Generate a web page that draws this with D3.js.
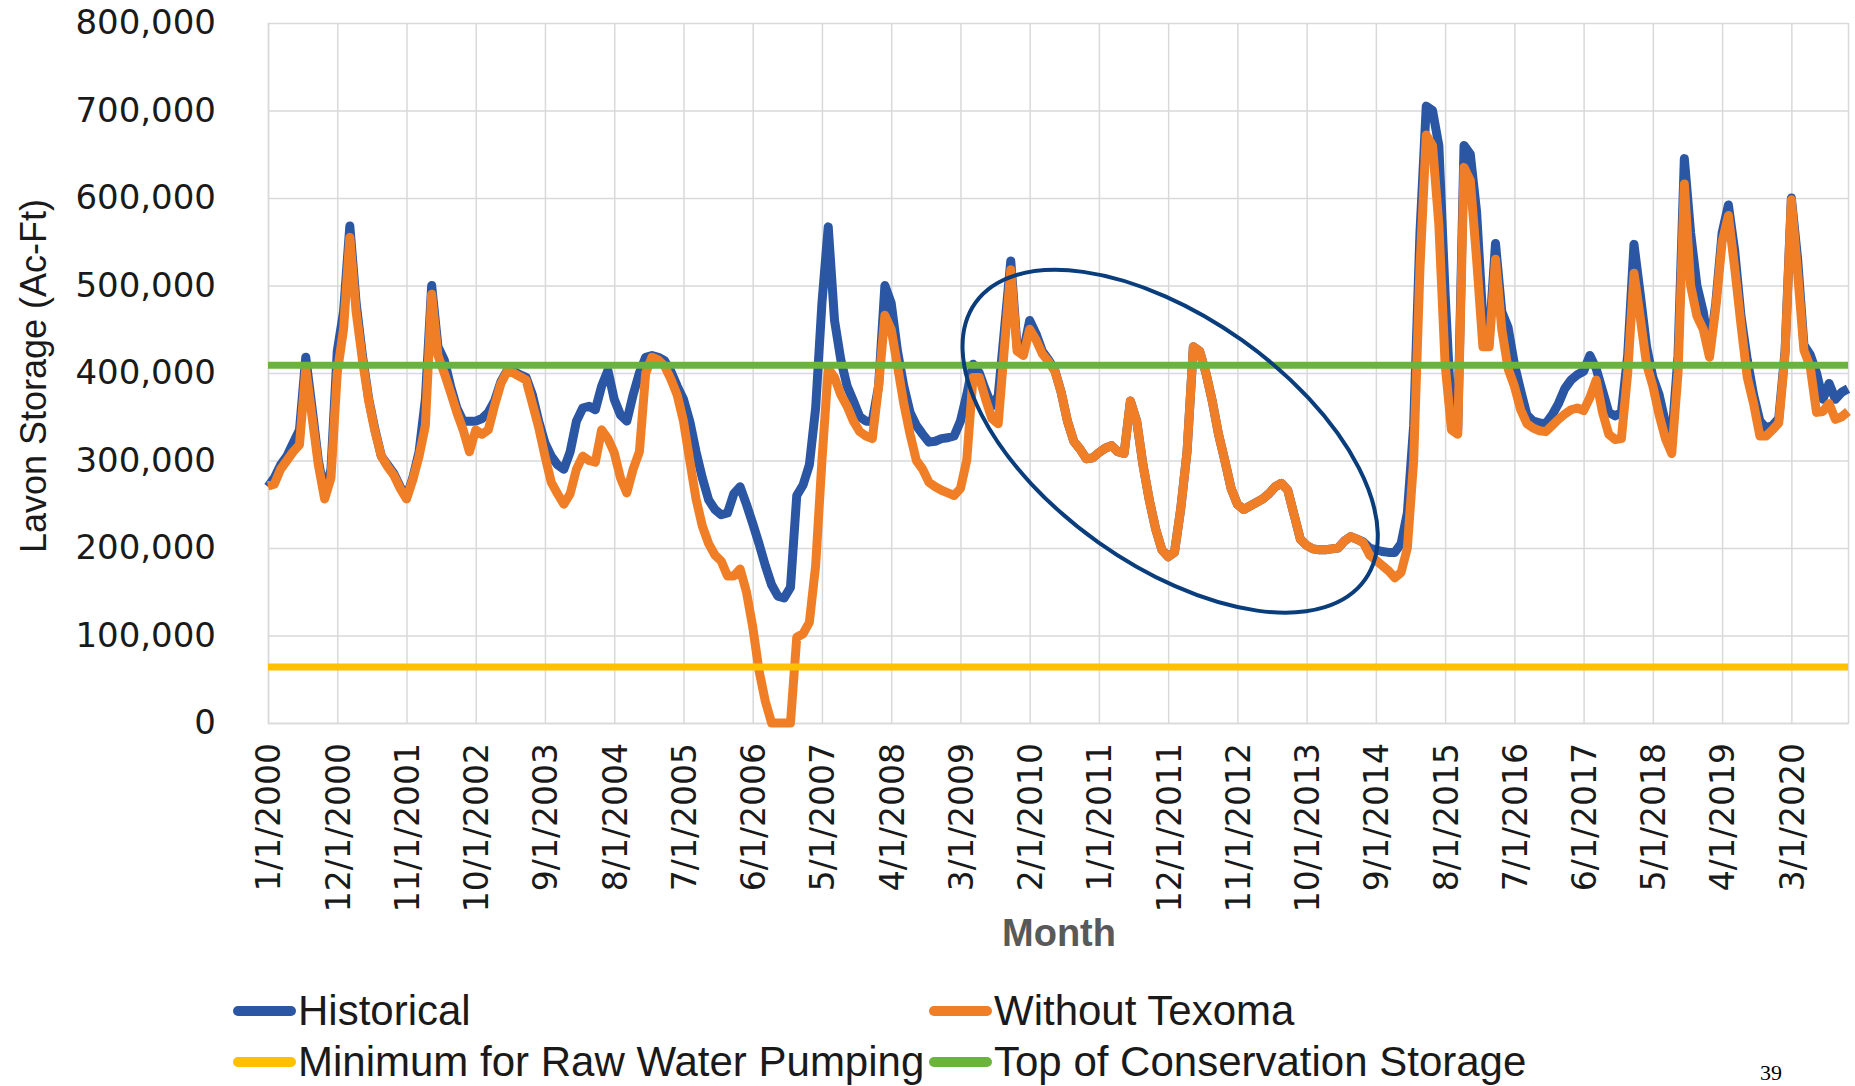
<!DOCTYPE html>
<html>
<head>
<meta charset="utf-8">
<title>Lavon Storage</title>
<script src="https://cdn.jsdelivr.net/npm/d3@7"></script>
<style>
  body { margin: 0; background: #fff; }
  .axis text { font-family: "DejaVu Sans", sans-serif; font-size: 33px; fill: #1a1a1a; }
  .y-axis text { font-size: 34px; }
  .axis line, .axis path { stroke: #d9d9d9; stroke-width: 1.5; }
  .title { font-family: "Liberation Sans", Arial, sans-serif; }
  .legend text { font-family: "Liberation Sans", Arial, sans-serif; font-size: 42px; fill: #1a1a1a; }
</style>
</head>
<body>
<div class="chart"></div>
<script>
'use strict';
(function() {
  // Months, one point per month (Jan 2000 - Dec 2020)
  var months = d3.timeMonth.range(new Date(2000, 0, 1), new Date(2021, 0, 1))
    .map(d3.timeFormat("%-m/%-d/%Y"));

  // Tick labels shown on the x axis (every 11th month)
  var xTickLabels = ["1/1/2000", "12/1/2000", "11/1/2001", "10/1/2002", "9/1/2003", "8/1/2004",
    "7/1/2005", "6/1/2006", "5/1/2007", "4/1/2008", "3/1/2009", "2/1/2010", "1/1/2011",
    "12/1/2011", "11/1/2012", "10/1/2013", "9/1/2014", "8/1/2015", "7/1/2016", "6/1/2017",
    "5/1/2018", "4/1/2019", "3/1/2020"];

  var yTicks = [0, 100000, 200000, 300000, 400000, 500000, 600000, 700000, 800000];

  // Storage, Ac-Ft (one row per year)
  var historical = [
    270000, 280000, 295000, 305000, 320000, 335000, 418000, 360000, 300000, 262000, 290000, 425000,
    470000, 568000, 480000, 420000, 370000, 335000, 305000, 295000, 285000, 270000, 258000, 280000,
    310000, 370000, 500000, 430000, 415000, 385000, 360000, 345000, 345000, 345000, 348000, 355000,
    368000, 390000, 403000, 402000, 398000, 395000, 375000, 345000, 320000, 305000, 295000, 290000,
    310000, 345000, 360000, 362000, 358000, 385000, 403000, 370000, 352000, 345000, 375000, 400000,
    418000, 420000, 418000, 414000, 402000, 385000, 370000, 345000, 310000, 280000, 255000, 244000,
    238000, 240000, 262000, 270000, 250000, 228000, 205000, 180000, 158000, 145000, 143000, 155000,
    260000, 272000, 295000, 360000, 480000, 567000, 460000, 415000, 385000, 368000, 350000, 345000,
    345000, 385000, 500000, 480000, 425000, 385000, 355000, 340000, 330000, 321000, 322000, 325000,
    326000, 328000, 345000, 375000, 410000, 400000, 380000, 362000, 374000, 450000, 528000, 430000,
    425000, 460000, 445000, 425000, 415000, 403000, 378000, 345000, 322000, 313000, 302000, 303000,
    309000, 314000, 317000, 310000, 308000, 368000, 345000, 295000, 255000, 222000, 198000, 190000,
    195000, 245000, 310000, 430000, 425000, 400000, 368000, 330000, 300000, 268000, 250000, 244000,
    248000, 252000, 256000, 262000, 270000, 274000, 266000, 238000, 210000, 203000, 199000, 198000,
    198000, 199000, 200000, 208000, 213000, 210000, 207000, 200000, 198000, 196000, 195000, 195000,
    205000, 240000, 340000, 560000, 705000, 700000, 660000, 490000, 350000, 335000, 660000, 650000,
    584000, 460000, 440000, 548000, 470000, 452000, 410000, 380000, 352000, 345000, 343000, 342000,
    352000, 365000, 382000, 392000, 398000, 402000, 420000, 405000, 380000, 355000, 351000, 355000,
    420000, 547000, 490000, 430000, 395000, 375000, 343000, 325000, 420000, 645000, 560000, 500000,
    470000, 425000, 480000, 560000, 592000, 540000, 465000, 415000, 375000, 345000, 337000, 340000,
    348000, 425000, 600000, 530000, 432000, 421000, 400000, 370000, 388000, 370000, 378000, 382000
  ];

  var withoutTexoma = [
    271000, 273000, 290000, 300000, 310000, 318000, 405000, 350000, 295000, 256000, 280000, 400000,
    450000, 555000, 470000, 415000, 368000, 333000, 305000, 293000, 283000, 268000, 256000, 278000,
    305000, 340000, 490000, 420000, 400000, 378000, 355000, 335000, 310000, 335000, 330000, 335000,
    363000, 388000, 402000, 400000, 396000, 392000, 365000, 338000, 305000, 275000, 262000, 250000,
    262000, 290000, 305000, 300000, 298000, 335000, 325000, 309000, 280000, 263000, 290000, 310000,
    400000, 418000, 415000, 408000, 393000, 375000, 345000, 300000, 256000, 225000, 205000, 192000,
    185000, 168000, 168000, 176000, 150000, 110000, 60000, 25000, 0, 0, 0, 0,
    98000, 102000, 115000, 180000, 300000, 405000, 395000, 375000, 362000, 345000, 333000, 328000,
    325000, 385000, 466000, 450000, 408000, 365000, 330000, 300000, 290000, 275000, 270000, 266000,
    263000, 260000, 268000, 300000, 395000, 395000, 370000, 348000, 342000, 430000, 518000, 425000,
    420000, 450000, 438000, 422000, 413000, 402000, 378000, 345000, 322000, 313000, 302000, 303000,
    309000, 314000, 317000, 310000, 308000, 368000, 345000, 295000, 255000, 222000, 198000, 190000,
    195000, 245000, 310000, 430000, 425000, 400000, 368000, 330000, 300000, 268000, 250000, 244000,
    248000, 252000, 256000, 262000, 270000, 274000, 266000, 238000, 210000, 203000, 199000, 198000,
    198000, 199000, 200000, 208000, 213000, 210000, 206000, 192000, 186000, 180000, 174000, 166000,
    172000, 200000, 300000, 520000, 672000, 660000, 570000, 410000, 335000, 330000, 635000, 620000,
    530000, 430000, 430000, 530000, 450000, 405000, 385000, 358000, 342000, 337000, 334000, 333000,
    340000, 347000, 353000, 358000, 360000, 357000, 372000, 392000, 355000, 330000, 324000, 325000,
    400000, 514000, 463000, 410000, 385000, 352000, 325000, 308000, 400000, 616000, 500000, 465000,
    450000, 418000, 475000, 550000, 580000, 520000, 455000, 395000, 365000, 328000, 328000, 335000,
    343000, 421000, 598000, 514000, 426000, 407000, 355000, 356000, 365000, 347000, 350000, 356000
  ];

  // Constant levels, Ac-Ft
  var minPumping = 64000;
  var topConservation = 409000;

  var COLORS = {
    historical: "#2b56a3",
    without: "#f07e26",
    minimum: "#ffc000",
    top: "#6ab43e",
    ellipse: "#0a3d7c"
  };

  //Width and height
  var w = 1855;
  var h = 1086;
  var left = 268;
  var right = 1848;
  var top = 23;
  var bottom = 723;

  var svg = d3.select(".chart")
    .append("svg")
    .attr("width", w)
    .attr("height", h);

  // Scales
  var xScale = d3.scalePoint()
    .domain(months)
    .range([left, right]);

  var yScale = d3.scaleLinear()
    .domain([0, 800000])
    .range([bottom, top]);

  // Y axis with gridlines
  var yAxis = d3.axisLeft(yScale)
    .tickValues(yTicks)
    .tickFormat(d3.format(","))
    .tickSize(-(right - left))
    .tickPadding(52);

  svg.append("g")
    .attr("class", "axis y-axis")
    .attr("transform", "translate(" + left + ",0)")
    .call(yAxis)
    .call(function(g) { g.select(".domain").remove(); });

  // X axis with gridlines
  var xAxis = d3.axisBottom(xScale)
    .tickValues(xTickLabels)
    .tickSize(-(bottom - top));

  svg.append("g")
    .attr("class", "axis x-axis")
    .attr("transform", "translate(0," + bottom + ")")
    .call(xAxis)
    .selectAll("text")
    .attr("transform", "rotate(-90)")
    .attr("x", -20)
    .attr("y", 0)
    .attr("dy", "0.36em")
    .style("text-anchor", "end");

  // Series lines
  var line = d3.line()
    .x(function(d, i) { return xScale(months[i]); })
    .y(function(d) { return yScale(d); });

  svg.append("path")
    .datum(historical)
    .attr("d", line)
    .attr("fill", "none")
    .attr("stroke", COLORS.historical)
    .attr("stroke-width", 9)
    .attr("stroke-linejoin", "round");

  svg.append("path")
    .datum(withoutTexoma)
    .attr("d", line)
    .attr("fill", "none")
    .attr("stroke", COLORS.without)
    .attr("stroke-width", 9)
    .attr("stroke-linejoin", "round");

  // Flat reference levels
  var levels = [
    {value: minPumping, color: COLORS.minimum},
    {value: topConservation, color: COLORS.top}
  ];

  svg.append("g")
    .selectAll("line")
    .data(levels)
    .enter()
    .append("line")
    .attr("x1", xScale(months[0]))
    .attr("x2", xScale(months[months.length - 1]))
    .attr("y1", function(d) { return yScale(d.value); })
    .attr("y2", function(d) { return yScale(d.value); })
    .attr("stroke", function(d) { return d.color; })
    .attr("stroke-width", 7);

  // Ellipse highlighting the 2010-2014 drought
  svg.append("ellipse")
    .attr("transform", "translate(" + (xScale("12/1/2011") + 2) + "," + yScale(322000) + ") rotate(35.4)")
    .attr("rx", 239)
    .attr("ry", 124)
    .attr("fill", "none")
    .attr("stroke", COLORS.ellipse)
    .attr("stroke-width", 4);

  // Axis titles
  svg.append("text")
    .attr("class", "title")
    .attr("transform", "translate(33,376) rotate(-90)")
    .attr("text-anchor", "middle")
    .attr("dominant-baseline", "central")
    .attr("font-size", 36)
    .attr("fill", "#1a1a1a")
    .text("Lavon Storage (Ac-Ft)");

  svg.append("text")
    .attr("class", "title")
    .attr("x", 1059)
    .attr("y", 946)
    .attr("text-anchor", "middle")
    .attr("font-size", 38)
    .attr("font-weight", "bold")
    .attr("fill", "#595959")
    .text("Month");

  // Legend
  var legendItems = [
    {name: "Historical", color: COLORS.historical, x: 233, y: 1011},
    {name: "Without Texoma", color: COLORS.without, x: 929, y: 1011},
    {name: "Minimum for Raw Water Pumping", color: COLORS.minimum, x: 233, y: 1062},
    {name: "Top of Conservation Storage", color: COLORS.top, x: 929, y: 1062}
  ];

  var legend = svg.append("g")
    .attr("class", "legend")
    .selectAll("g")
    .data(legendItems)
    .enter()
    .append("g")
    .attr("transform", function(d) { return "translate(" + d.x + "," + d.y + ")"; });

  legend.append("line")
    .attr("x1", 5)
    .attr("x2", 58)
    .attr("stroke", function(d) { return d.color; })
    .attr("stroke-width", 10)
    .attr("stroke-linecap", "round");

  legend.append("text")
    .attr("x", 65)
    .attr("y", 14)
    .text(function(d) { return d.name; });

  // Slide number
  svg.append("text")
    .attr("x", 1771)
    .attr("y", 1080)
    .attr("text-anchor", "middle")
    .attr("font-family", "Liberation Serif, serif")
    .attr("font-size", 22)
    .text("39");
})();
</script>
</body>
</html>
